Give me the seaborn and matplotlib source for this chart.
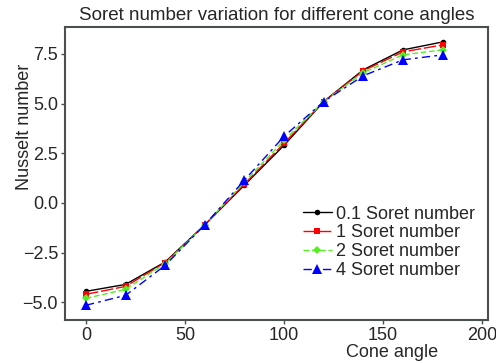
import matplotlib
matplotlib.use("Agg")
import matplotlib.pyplot as plt
import seaborn as sns
import pandas as pd

# ── Data ──────────────────────────────────────────────────────────────────────
cone_angle = [0, 20, 40, 60, 80, 100, 120, 140, 160, 180]
nu_sr01 = [-4.45, -4.10, -2.97, -1.10, 0.90, 2.90, 5.10, 6.70, 7.70, 8.10]
nu_sr1  = [-4.60, -4.20, -3.00, -1.10, 0.95, 3.00, 5.10, 6.65, 7.60, 7.95]
nu_sr2  = [-4.80, -4.35, -3.05, -1.10, 1.05, 3.15, 5.10, 6.55, 7.45, 7.70]
nu_sr4  = [-5.15, -4.65, -3.14, -1.10, 1.15, 3.35, 5.10, 6.40, 7.20, 7.45]
labels  = ["0.1 Soret number", "1 Soret number", "2 Soret number", "4 Soret number"]

rows = []
for lab, vals in zip(labels, [nu_sr01, nu_sr1, nu_sr2, nu_sr4]):
    for x, y in zip(cone_angle, vals):
        rows.append({"Cone angle": x, "Nusselt number": y, "series": lab})
df = pd.DataFrame(rows)

# ── Style ─────────────────────────────────────────────────────────────────────
sns.set_style("ticks")
plt.rcParams["font.family"] = ["Liberation Sans", "DejaVu Sans"]

palette = dict(zip(labels, ["black", "red", "#55ee22", "blue"]))
markers = dict(zip(labels, ["o", "s", "D", "^"]))
dashes  = dict(zip(labels, ["", (9, 2), (4, 2), (6, 3, 2, 3)]))
msizes  = [4, 4.5, 4, 6.5]

fig, ax = plt.subplots(figsize=(4.96, 3.63), dpi=100)
sns.lineplot(data=df, x="Cone angle", y="Nusselt number", hue="series",
             style="series", palette=palette, markers=markers, dashes=dashes,
             linewidth=1.0, markeredgewidth=0, ax=ax)
for line, ms in zip(ax.lines, msizes):
    line.set_markersize(ms)

ax.set_xlim(-10.6, 203)
ax.set_ylim(-5.9, 8.86)
ax.set_xticks([0, 50, 100, 150, 200])
ax.set_yticks([-5.0, -2.5, 0.0, 2.5, 5.0, 7.5])
ax.tick_params(labelsize=13, color="#4a5050", width=1, length=3, pad=2)
for s in ax.spines.values():
    s.set_color("#4a5050")
    s.set_linewidth(1.5)

ax.set_title("Soret number variation for different cone angles", fontsize=13.5, pad=5)
ax.set_xlabel("Cone angle", fontsize=13)
ax.xaxis.set_label_coords(0.773, -0.082)
ax.set_ylabel("Nusselt number", fontsize=13)
ax.yaxis.set_label_coords(-0.075, 0.66)
leg = ax.legend(frameon=False, loc="upper left", fontsize=13, handlelength=1.6,
                handletextpad=0.25, labelspacing=0.1, borderaxespad=0,
                bbox_to_anchor=(0.545, 0.415))
for h, ms in zip(leg.legend_handles, msizes):
    h.set_markersize(ms)

fig.subplots_adjust(left=0.131, right=0.984, top=0.926, bottom=0.118)
fig.savefig("out.png", dpi=100)
